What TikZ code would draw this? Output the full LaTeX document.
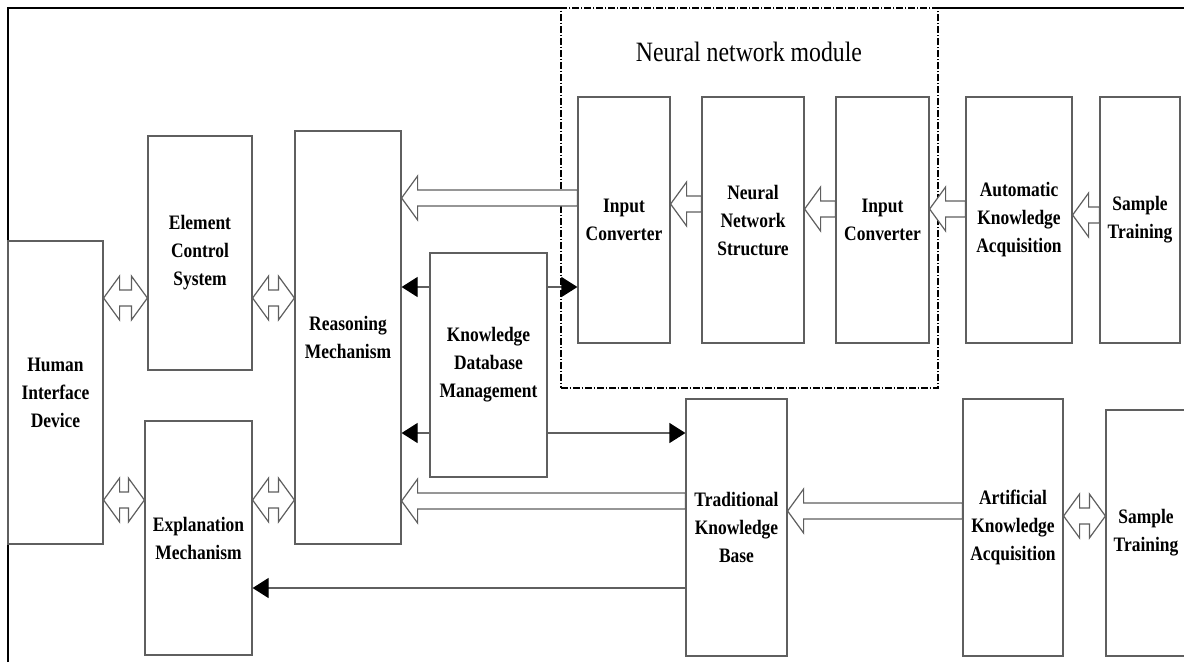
\documentclass[tikz,border=0pt]{standalone}
\usepackage{fontspec}
\setmainfont{Liberation Serif}[FakeStretch=0.85]
\usetikzlibrary{arrows.meta,calc,positioning}
\definecolor{boxline}{RGB}{95,95,95}
\tikzstyle{block} = [draw=boxline, line width=0.9pt, rectangle, align=center, inner sep=0pt,
    font=\fontsize{15.4}{21}\selectfont\bfseries]
\tikzstyle{hollow} = [draw=boxline, line width=0.9pt, fill=white, line join=miter]
\tikzstyle{link} = [draw=boxline, line width=0.9pt, -{Triangle[length=12pt,width=15pt,color=black]}]
\tikzstyle{module} = [draw=black, line width=1.2pt, dash pattern=on 5pt off 1.5pt on 1pt off 1.5pt]
\newcommand{\hollowarrow}[2]{% tip, tail
    \draw[hollow] let \p1=(#1), \p2=(#2) in (\p1) -- (\x1+12pt,\y1+16.5pt) -- (\x1+12pt,\y1+6pt)
        -- (\x2,\y1+6pt) -- (\x2,\y1-6pt) -- (\x1+12pt,\y1-6pt) -- (\x1+12pt,\y1-16.5pt) -- cycle;}
\newcommand{\twowayarrow}[2]{% left tip, right tip
    \draw[hollow] let \p1=(#1), \p2=(#2) in (\p1) -- (\x1+12pt,\y1+16.5pt) -- (\x1+12pt,\y1+6pt)
        -- (\x2-12pt,\y1+6pt) -- (\x2-12pt,\y1+16.5pt) -- (\p2) -- (\x2-12pt,\y1-16.5pt)
        -- (\x2-12pt,\y1-6pt) -- (\x1+12pt,\y1-6pt) -- (\x1+12pt,\y1-16.5pt) -- cycle;}

\begin{document}
\begin{tikzpicture}[x=0.75pt, y=-0.75pt]
    \useasboundingbox (0,0) rectangle (1184,662);
    \draw[line width=1.1pt] (8,662) -- (8,8) -- (561,8);
    \draw[line width=1.1pt] (938,8) -- (1184,8);

    \node[module, minimum width=282.75pt, minimum height=285pt] (nnmod) at (749.5,198) {};
    \node[font=\fontsize{21}{24}\selectfont] (title) at (749,52) {Neural network module};

    \node[block, minimum width=71.25pt, minimum height=227.25pt] (hid) at (55.5,392.5) {Human\\Interface\\Device};
    \node[block, minimum width=78pt, minimum height=175.5pt] (ecs) at (200,253) {Element\\Control\\System};
    \node[block, minimum width=80.25pt, minimum height=175.5pt] (exm) at (198.5,538) {Explanation\\Mechanism};
    \node[block, minimum width=79.5pt, minimum height=309.75pt] (rsm) at (348,337.5) {Reasoning\\Mechanism};
    \node[block, minimum width=87.75pt, minimum height=168pt] (kdm) at (488.5,365) {Knowledge\\Database\\Management};

    \node[block, minimum width=69pt, minimum height=184.5pt] (ic1) at (624,220) {Input\\Converter};
    \node[block, minimum width=76.5pt, minimum height=184.5pt] (nns) at (753,220) {Neural\\Network\\Structure};
    \node[block, minimum width=69.75pt, minimum height=184.5pt] (ic2) at (882.5,220) {Input\\Converter};
    \node[block, minimum width=79.5pt, minimum height=184.5pt] (aka) at (1019,220) {Automatic\\Knowledge\\Acquisition};
    \node[block, minimum width=60pt, minimum height=184.5pt] (st1) at (1140,220) {Sample\\Training};

    \node[block, minimum width=75.75pt, minimum height=192.75pt] (tkb) at (736.5,527.5) {Traditional\\Knowledge\\Base};
    \node[block, minimum width=75pt, minimum height=192.75pt] (akq) at (1013,527.5) {Artificial\\Knowledge\\Acquisition};
    \node[block, minimum width=60pt, minimum height=184.5pt] (st2) at (1146,533) {Sample\\Training};

    \hollowarrow{rsm.east |- 0,198}{ic1.west |- 0,198}
    \hollowarrow{ic1.east |- 0,204}{nns.west |- 0,204}
    \hollowarrow{nns.east |- 0,209}{ic2.west |- 0,209}
    \hollowarrow{ic2.east |- 0,209}{aka.west |- 0,209}
    \hollowarrow{aka.east |- 0,215}{st1.west |- 0,215}
    \hollowarrow{tkb.east |- 0,511}{akq.west |- 0,511}
    \hollowarrow{rsm.east |- 0,501}{tkb.west |- 0,501}

    \twowayarrow{hid.east |- 0,298}{ecs.west |- 0,298}
    \twowayarrow{ecs.east |- 0,298}{rsm.west |- 0,298}
    \twowayarrow{hid.east |- 0,500}{exm.west |- 0,500}
    \twowayarrow{exm.east |- 0,500}{rsm.west |- 0,500}
    \twowayarrow{akq.east |- 0,516}{st2.west |- 0,516}

    \draw[link] (kdm.west |- 0,287) -- (rsm.east |- 0,287);
    \draw[link] (kdm.east |- 0,287) -- (ic1.west |- 0,287);
    \draw[link] (kdm.west |- 0,433) -- (rsm.east |- 0,433);
    \draw[link] (kdm.east |- 0,433) -- (tkb.west |- 0,433);
    \draw[link] (tkb.west |- 0,588) -- (exm.east |- 0,588);
\end{tikzpicture}
\end{document}
